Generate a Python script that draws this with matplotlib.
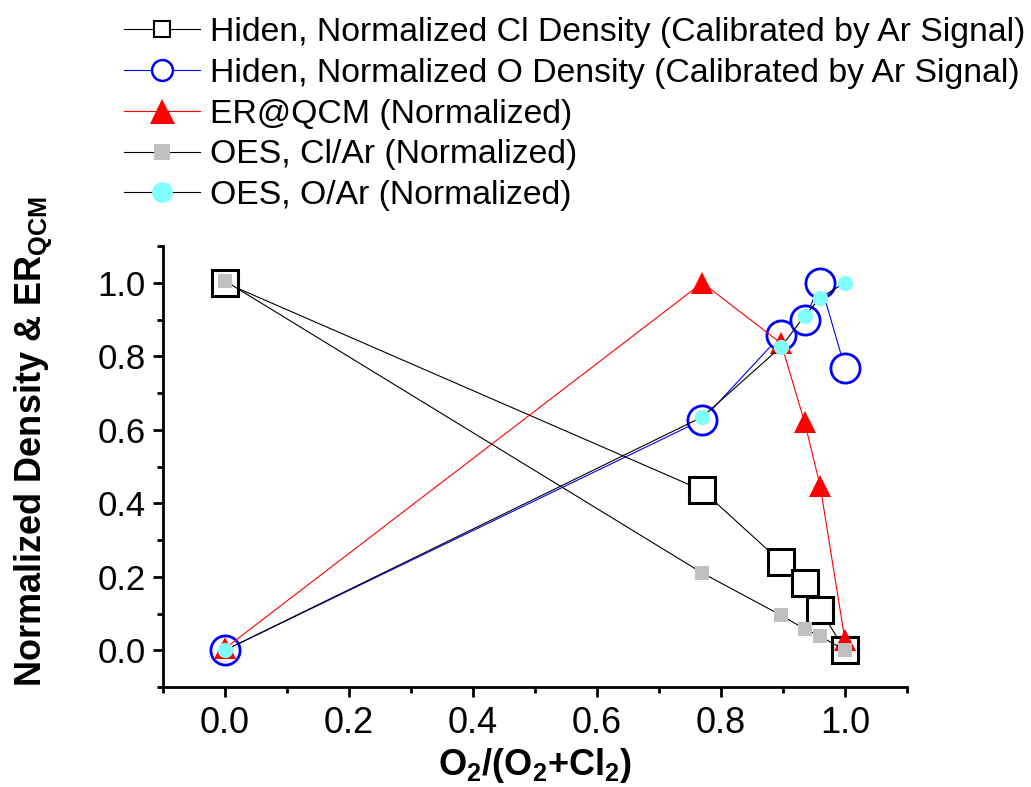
import matplotlib
matplotlib.use("Agg")
import matplotlib.pyplot as plt
from matplotlib.ticker import MultipleLocator

plt.rcParams['font.family'] = ['Liberation Sans', 'DejaVu Sans']
plt.rcParams['mathtext.fontset'] = 'custom'
plt.rcParams['mathtext.rm'] = 'Liberation Sans'
plt.rcParams['mathtext.bf'] = 'Liberation Sans:bold'
plt.rcParams['mathtext.default'] = 'bf'

# Data
x_ratio = [0.0, 0.77, 0.897, 0.935, 0.96, 1.0]
hiden_cl = [1.0, 0.435, 0.24, 0.183, 0.11, 0.0]
hiden_o = [0.0, 0.627, 0.858, 0.899, 1.0, 0.768]
er_qcm = [0.005, 1.0, 0.835, 0.62, 0.447, 0.027]
oes_cl = [1.005, 0.21, 0.095, 0.058, 0.038, 0.0]
oes_o = [0.0, 0.635, 0.826, 0.91, 0.959, 1.0]

tick_vals = [0.0, 0.2, 0.4, 0.6, 0.8, 1.0]
tick_labels = ['0.0', '0.2', '0.4', '0.6', '0.8', '1.0']

labels = [
    "Hiden, Normalized Cl Density (Calibrated by Ar Signal)",
    "Hiden, Normalized O Density (Calibrated by Ar Signal)",
    "ER@QCM (Normalized)",
    "OES, Cl/Ar (Normalized)",
    "OES, O/Ar (Normalized)",
]

fig = plt.figure(figsize=(10.31, 7.87), dpi=100)
ax = fig.add_axes([163/1031, 1-687/787, (907-163)/1031, (687-246)/787])

l1, = ax.plot(x_ratio, hiden_cl, color='black', lw=0.8, marker='s', ms=19,
              mfc='white', mec='black', mew=2.2, label=labels[0])
l2, = ax.plot(x_ratio, hiden_o, color='blue', lw=0.8, marker='o', ms=21,
              mfc='white', mec='blue', mew=2.0, label=labels[1])
l3, = ax.plot(x_ratio, er_qcm, color='red', lw=0.8, marker='^', ms=16,
              mfc='red', mec='red', mew=0, label=labels[2])
l4, = ax.plot(x_ratio, oes_cl, color='black', lw=0.8, marker='s', ms=10,
              mfc='#c0c0c0', mec='#c0c0c0', mew=0, label=labels[3])
l5, = ax.plot(x_ratio, oes_o, color='black', lw=0.8, marker='o', ms=11,
              mfc='#80ffff', mec='#80ffff', mew=0, label=labels[4])

ax.set_xlim(-0.1, 1.1)
ax.set_ylim(-0.1, 1.1)
ax.xaxis.set_minor_locator(MultipleLocator(0.1))
ax.yaxis.set_minor_locator(MultipleLocator(0.1))
ax.set_xticks(tick_vals)
ax.set_yticks(tick_vals)
ax.set_xticklabels(tick_labels)
ax.set_yticklabels(tick_labels)

for s in ['top', 'right']:
    ax.spines[s].set_visible(False)
for s in ['left', 'bottom']:
    ax.spines[s].set_linewidth(2)
ax.tick_params(which='major', direction='out', length=7.5, width=2)
ax.tick_params(which='minor', direction='out', length=4.5, width=2)
ax.tick_params(axis='x', which='major', labelsize=26, pad=6)
ax.tick_params(axis='y', which='major', labelsize=25, pad=5)

ax.set_xlabel('O$_2$/(O$_2$+Cl$_2$)', fontsize=26, fontweight='bold', labelpad=4)
ax.set_ylabel('Normalized Density & ER$_{QCM}$', fontsize=26, fontweight='bold')
ax.yaxis.set_label_coords(-0.146, 0.556)

leg = fig.legend(handles=[l1, l2, l3, l4, l5], loc='upper left',
                 bbox_to_anchor=(124/1031, 1-17/787), frameon=False,
                 fontsize=24.3, handlelength=2.25, handletextpad=0.3,
                 labelspacing=0.29, borderaxespad=0, borderpad=0)
sizes = [12, 15, 18, 12, 15]
for h, s in zip(leg.legend_handles, sizes):
    h.set_markersize(s)
leg.legend_handles[0].set_markeredgewidth(1.5)
leg.legend_handles[1].set_markeredgewidth(1.8)

fig.savefig('out.png', dpi=100)
